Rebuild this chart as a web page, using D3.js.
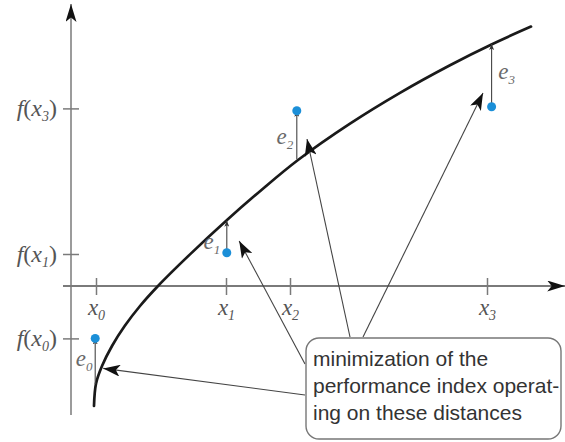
<!DOCTYPE html>
<html>
<head>
<meta charset="utf-8">
<script src="https://cdn.jsdelivr.net/npm/d3@7/dist/d3.min.js"></script>
<style>
  html, body { margin: 0; padding: 0; background: #fff; }
  svg { display: block; }
</style>
</head>
<body>
<svg id="chart" width="565" height="442"></svg>
<script>
// ---------------- data (abstract units) ----------------
const xTickValues = [0.6, 3.85, 5.45, 10.375];
const xTickSubs   = ["0", "1", "2", "3"];
const yTickValues = [-1.31, 0.8, 4.44];
const yTickSubs   = ["0", "1", "3"];

const pointX       = [0.58, 3.87, 5.62, 10.49];
const pointY       = [-1.31, 0.83, 4.38, 4.48];
const curveAtPoint = [-2.45, 1.63, 3.17, 6.05];
const errorSubs    = ["0", "1", "2", "3"];
const errorLabelY  = [-1.85, 1.075, 3.7, 5.325];

const curveX = [0.55, 0.6, 0.75, 1.0, 1.325, 1.7, 2.15, 2.95, 3.875, 4.7, 5.65, 6.95, 8.2, 9.45, 10.5, 11.475];
const curveY = [-3.0, -2.44, -2.0, -1.5, -0.99, -0.5, 0, 0.79, 1.65, 2.37, 3.15, 4.06, 4.83, 5.52, 6.045, 6.485];

// arrow tips of the callout (data units)
const arrowTipX = [0.78, 4.18, 5.875, 10.275];
const arrowTipY = [-2.06, 1.125, 3.675, 4.825];

const calloutLines = ["minimization of the", "performance index operat-", "ing on these distances"];

// ---------------- layout ----------------
const svg = d3.select("#chart");
const x = d3.scaleLinear().domain([0, 12]).range([72, 552]);
const y = d3.scaleLinear().domain([0, 7]).range([286, 6]);

const axisColor = "#7a7a7a";
const serif = "'Liberation Serif', 'DejaVu Serif', serif";
const sans = "'Liberation Sans', Arial, sans-serif";

const defs = svg.append("defs");
function marker(id, len, wid, color) {
  defs.append("marker")
    .attr("id", id)
    .attr("markerUnits", "userSpaceOnUse")
    .attr("viewBox", `0 0 ${len} ${wid}`)
    .attr("refX", len).attr("refY", wid / 2)
    .attr("markerWidth", len).attr("markerHeight", wid)
    .attr("orient", "auto")
    .append("path")
    .attr("d", `M0,0 L${len},${wid / 2} L0,${wid} L${len * 0.25},${wid / 2} Z`)
    .attr("fill", color);
}
marker("axisArrow", 18, 11, "#111");
marker("bigArrow", 17, 12, "#111");
marker("smallArrow", 6, 5, "#333");

// ---------------- axes ----------------
svg.append("line")
  .attr("x1", x(-0.225)).attr("x2", x(12.33))
  .attr("y1", y(0)).attr("y2", y(0))
  .attr("stroke", axisColor).attr("stroke-width", 1.8)
  .attr("marker-end", "url(#axisArrow)");
svg.append("line")
  .attr("x1", x(0) - 1).attr("x2", x(0) - 1)
  .attr("y1", y(-3.225)).attr("y2", y(7.05))
  .attr("stroke", axisColor).attr("stroke-width", 1.5)
  .attr("marker-end", "url(#axisArrow)");

const xAxis = d3.axisBottom(x).tickValues(xTickValues).tickFormat("").tickSizeOuter(0);
const gx = svg.append("g").attr("transform", `translate(0,${y(0)})`).call(xAxis);
gx.select(".domain").remove();
gx.selectAll(".tick line").attr("y1", -8).attr("y2", 9).attr("stroke", axisColor).attr("stroke-width", 1.5);

gx.selectAll(".tick").each(function (d, i) {
  const t = d3.select(this).append("text")
    .attr("y", 29).attr("text-anchor", "middle")
    .attr("fill", "#555").attr("font-family", serif).attr("font-style", "italic")
    .attr("font-size", 23);
  t.append("tspan").text("x");
  t.append("tspan").attr("font-size", 14).attr("dy", 5).text(xTickSubs[i]);
});

const yAxis = d3.axisLeft(y).tickValues(yTickValues).tickFormat("").tickSizeOuter(0);
const gy = svg.append("g").attr("transform", `translate(${x(0) - 1},0)`).call(yAxis);
gy.select(".domain").remove();
gy.selectAll(".tick line").attr("x1", -8).attr("x2", 8).attr("stroke", axisColor).attr("stroke-width", 1.5);
gy.selectAll(".tick").each(function (d, i) {
  const t = d3.select(this).append("text")
    .attr("x", -14).attr("y", 7).attr("text-anchor", "end")
    .attr("fill", "#555").attr("font-family", serif)
    .attr("font-size", 24);
  t.append("tspan").attr("font-style", "italic").text("f");
  t.append("tspan").text("(");
  t.append("tspan").attr("font-style", "italic").text("x");
  t.append("tspan").attr("font-style", "italic").attr("font-size", 14).attr("dy", 5).text(yTickSubs[i]);
  t.append("tspan").attr("dy", -5).text(")");
});

// ---------------- curve ----------------
const curvePts = curveX.map((v, i) => [v, curveY[i]]);
svg.append("path")
  .datum(curvePts)
  .attr("d", d3.line().x(d => x(d[0])).y(d => y(d[1])).curve(d3.curveCatmullRom.alpha(0.5)))
  .attr("fill", "none").attr("stroke", "#1a1a1a").attr("stroke-width", 2.7)
  .attr("stroke-linecap", "round");

// ---------------- error lines ----------------
const pts = pointX.map((v, i) => ({ x: v, y: pointY[i], c: curveAtPoint[i], s: errorSubs[i], ly: errorLabelY[i] }));
svg.selectAll(".err").data(pts).enter().append("line")
  .attr("class", "err")
  .attr("x1", d => x(d.x)).attr("x2", d => x(d.x))
  .attr("y1", d => y(Math.min(d.y, d.c)))
  .attr("y2", d => y(Math.max(d.y, d.c)))
  .attr("stroke", "#444").attr("stroke-width", 1.1)
  .attr("marker-end", "url(#smallArrow)");

// error labels
const errLabelDX = [-11, -15, -12, 15];
svg.selectAll(".elab").data(pts).enter().append("text")
  .attr("class", "elab")
  .attr("x", (d, i) => x(d.x) + errLabelDX[i])
  .attr("y", d => y(d.ly) + 6)
  .attr("text-anchor", "middle")
  .attr("fill", "#6a6a6a").attr("font-family", serif).attr("font-style", "italic")
  .attr("font-size", 23)
  .each(function (d) {
    const t = d3.select(this);
    t.append("tspan").text("e");
    t.append("tspan").attr("font-size", 13).attr("dy", 5).text(d.s);
  });

// points
svg.selectAll(".pt").data(pts).enter().append("circle")
  .attr("class", "pt")
  .attr("cx", d => x(d.x)).attr("cy", d => y(d.y))
  .attr("r", 4.5).attr("fill", "#1b8fd8");

// ---------------- callout ----------------
const box = { x: 306, y: 338, w: 255, h: 101, r: 13 };
const arrowFrom = [[box.x - 1, 395], [box.x - 1, 364], [box.x + 44, box.y - 1], [box.x + 57, box.y - 1]];
svg.selectAll(".callArrow").data(arrowTipX).enter().append("line")
  .attr("class", "callArrow")
  .attr("x1", (d, i) => arrowFrom[i][0]).attr("y1", (d, i) => arrowFrom[i][1])
  .attr("x2", (d, i) => x(arrowTipX[i])).attr("y2", (d, i) => y(arrowTipY[i]))
  .attr("stroke", "#444").attr("stroke-width", 1.1)
  .attr("marker-end", "url(#bigArrow)");

svg.append("rect")
  .attr("x", box.x).attr("y", box.y).attr("width", box.w).attr("height", box.h)
  .attr("rx", box.r).attr("ry", box.r)
  .attr("fill", "#fff").attr("stroke", "#777").attr("stroke-width", 1.4);

svg.append("g").selectAll("text").data(calloutLines).enter().append("text")
  .attr("x", box.x + 7)
  .attr("y", (d, i) => box.y + 28 + i * 27)
  .attr("fill", "#333").attr("font-family", sans).attr("font-size", 21)
  .text(d => d);
</script>
</body>
</html>
